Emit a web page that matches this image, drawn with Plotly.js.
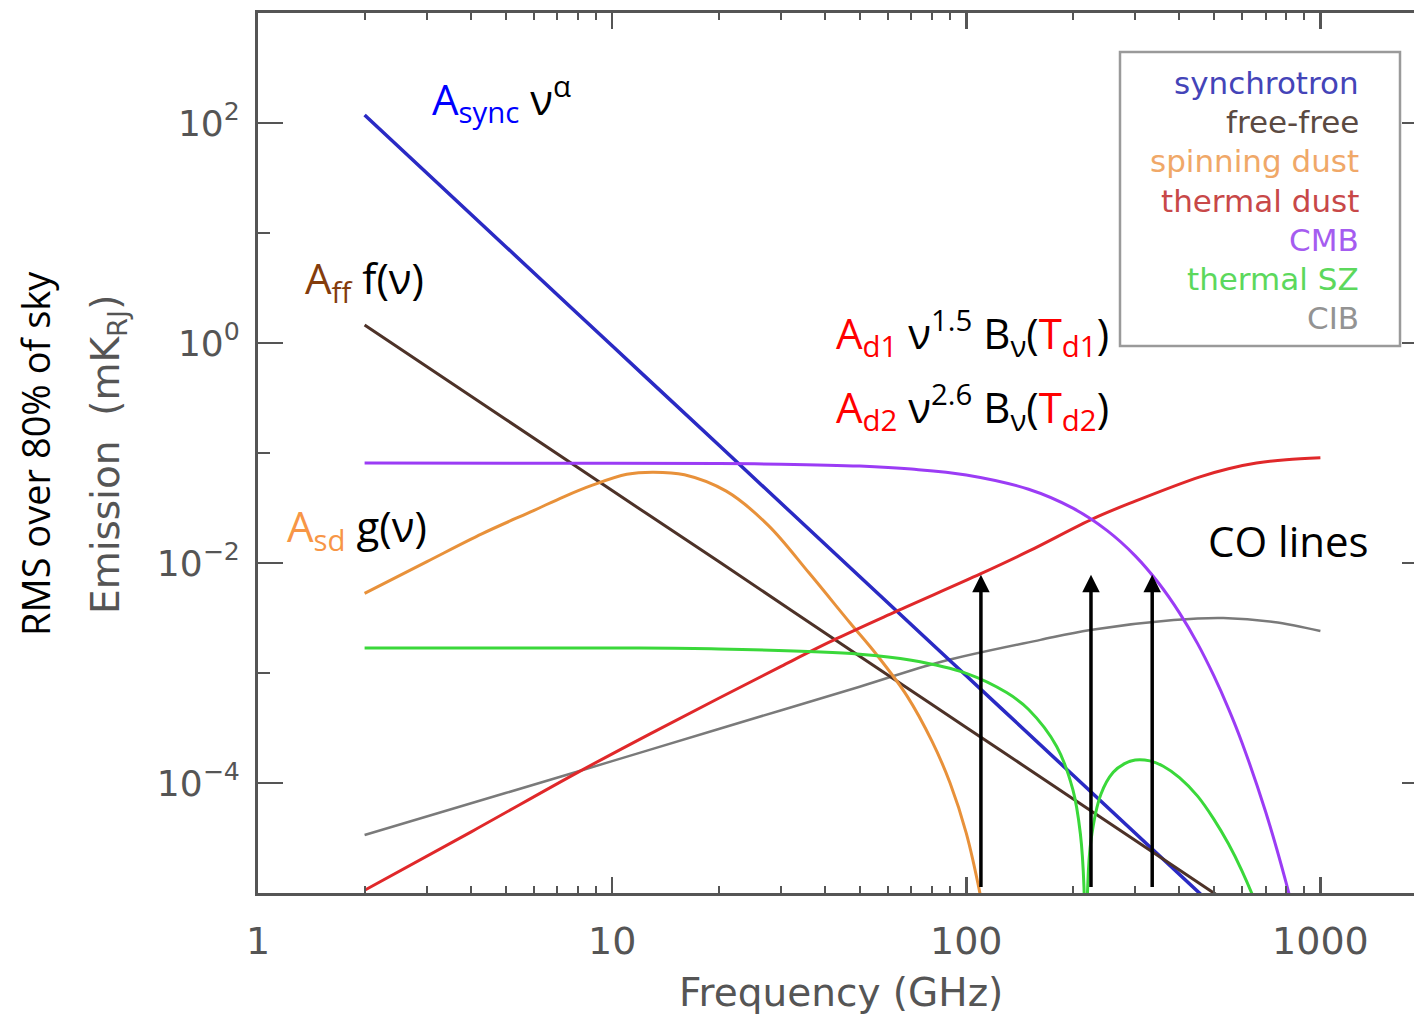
<!DOCTYPE html>
<html>
<head>
<meta charset="utf-8">
<script src="https://cdn.plot.ly/plotly-3.0.1.min.js"></script>
<style>
  html, body { margin: 0; padding: 0; background: #fff; overflow: hidden; }
  #chart { width: 1440px; height: 1017px; }
</style>
</head>
<body>
<div id="chart"></div>
<script>
// ---- Data (frequency in GHz, emission in mK_RJ) ----
const syncFreq = [2, 5, 10, 20, 50, 100, 200, 500];
const syncVals = [118, 7.55, 0.944, 0.118, 7.55e-3, 9.44e-4, 1.18e-4, 7.55e-6];

const ffFreq = [2, 5, 10, 20, 50, 100, 200, 500, 600];
const ffVals = [1.46, 0.203, 0.0455, 0.0103, 1.42e-3, 3.2e-4, 7.2e-5, 1.0e-5, 6.8e-6];

const sdFreq = [2, 3, 4.3, 6, 7.3, 8.8, 11, 13, 16, 21, 27.6, 36, 47, 56, 68, 80, 90, 100, 110, 115];
const sdVals = [5.3e-3, 0.0103, 0.0185, 0.030, 0.040, 0.051, 0.064, 0.067, 0.0635, 0.045, 0.022, 8.1e-3, 2.85e-3, 1.45e-3, 6.2e-4, 2.4e-4, 1.0e-4, 3.5e-5, 9e-6, 4e-6];

const tdFreq = [2, 4, 8, 12.8, 20, 30, 43, 63, 110, 150, 230, 300, 457, 550, 660, 800, 1000];
const tdVals = [1.06e-5, 3.6e-5, 1.25e-4, 2.8e-4, 5.9e-4, 1.15e-3, 2.05e-3, 3.6e-3, 8.0e-3, 0.0128, 0.0256, 0.0365, 0.0607, 0.072, 0.081, 0.087, 0.0905];

const cmbFreq = [2, 10, 20, 30, 50, 70, 100, 150, 200, 250, 300, 350, 400, 450, 500, 550, 600, 700, 800, 900];
const cmbVals = [0.081, 0.0808, 0.0802, 0.0792, 0.076, 0.0714, 0.0632, 0.0468, 0.0315, 0.0197, 0.01162, 0.00651, 0.00352, 1.85e-3, 9.45e-4, 4.75e-4, 2.35e-4, 5.5e-5, 1.24e-5, 2.7e-6];

const szFreq = [2, 10, 20, 50, 70, 100, 130, 150, 180, 200, 210, 215, 217.5, 220, 225, 240, 260, 280, 300, 330, 360, 400, 450, 500, 550, 600, 650, 700];
const szVals = [1.69e-3, 1.688e-3, 1.656e-3, 1.484e-3, 1.306e-3, 9.94e-4, 6.64e-4, 4.66e-4, 2.15e-4, 8.7e-5, 3.46e-5, 1.12e-5, 1e-7, 1.03e-5, 3.02e-5, 7.9e-5, 1.25e-4, 1.5e-4, 1.62e-4, 1.59e-4, 1.42e-4, 1.12e-4, 7.6e-5, 4.7e-5, 2.8e-5, 1.6e-5, 8.8e-6, 4.7e-6];

const cibFreq = [2, 5, 10, 20, 50, 84.5, 162, 224, 385, 532, 737, 1000];
const cibVals = [3.37e-5, 8.1e-5, 1.58e-4, 3.1e-4, 7.5e-4, 1.26e-3, 2.0e-3, 2.46e-3, 3.03e-3, 3.16e-3, 2.91e-3, 2.41e-3];

const legendNames = ["synchrotron", "free-free", "spinning dust", "thermal dust", "CMB", "thermal SZ", "CIB"];
const legendColors = ["#4444b8", "#5b4a42", "#f0a868", "#c84848", "#a55cf0", "#5cd85c", "#939393"];
const lineColors = ["#2a2ac4", "#4d3228", "#e8913a", "#e0282a", "#9b3cf5", "#3ad83a", "#7a7a7a"];
const lineWidths = [3.5, 3, 3, 3, 3, 3, 2.5];

// CO line arrows (GHz), arrow tip and base values (mK_RJ)
const coLines = [110, 225, 335];
const arrowTip = 7.8e-3;
const arrowBase = 1.1e-5;

const xTickVals = [1, 10, 100, 1000];
const xTickText = ["1", "10", "100", "1000"];
const yTickVals = [1e-4, 1e-2, 1, 100];
const yTickText = ["10<sup>\u22124</sup>", "10<sup>\u22122</sup>", "10<sup>0</sup>", "10<sup>2</sup>"];
const yMinorVals = [1e-3, 0.1, 10];

// ---- Build ----
const series = [
  [syncFreq, syncVals], [ffFreq, ffVals], [sdFreq, sdVals], [tdFreq, tdVals],
  [cmbFreq, cmbVals], [szFreq, szVals], [cibFreq, cibVals]
];
const traces = series.map((s, i) => ({
  x: s[0], y: s[1], type: "scatter", mode: "lines", name: legendNames[i],
  line: { color: lineColors[i], width: lineWidths[i], shape: "spline", smoothing: 1.0 },
  showlegend: false, hoverinfo: "skip"
}));
// draw CIB first so coloured curves sit on top
traces.unshift(traces.pop());

const xMinor = [];
for (let d = 1; d <= 1000; d *= 10) for (let k = 2; k <= 9; k++) xMinor.push(d * k);

// plot-area geometry for paper coordinates
const L = 258, T = 13, W = 1169, H = 880;
const px = v => (v - L) / W;
const py = v => (T + H - v) / H;

const annotations = [];
// legend box texts
legendNames.forEach((n, i) => {
  annotations.push({
    xref: "paper", yref: "paper", x: px(1361), y: py(83 + i * 39.2),
    xanchor: "right", yanchor: "middle", showarrow: false, text: n,
    font: { family: "DejaVu Sans", size: 31, color: legendColors[i] }
  });
});
const OS = "Open Sans";
const big = 42;
annotations.push(
  { xref: "paper", yref: "paper", x: px(430), y: py(99), xanchor: "left", yanchor: "middle", showarrow: false,
    text: '<span style="color:#0000ff">A<sub>sync</sub></span> \u03bd<sup>\u03b1</sup>',
    font: { family: OS, size: big, color: "#000" } },
  { xref: "paper", yref: "paper", x: px(303), y: py(280), xanchor: "left", yanchor: "middle", showarrow: false,
    text: '<span style="color:#843c0c">A<sub>ff</sub></span> f(\u03bd)',
    font: { family: OS, size: big, color: "#000" } },
  { xref: "paper", yref: "paper", x: px(285), y: py(528), xanchor: "left", yanchor: "middle", showarrow: false,
    text: '<span style="color:#f79646">A<sub>sd</sub></span> g(\u03bd)',
    font: { family: OS, size: big, color: "#000" } },
  { xref: "paper", yref: "paper", x: px(834), y: py(333), xanchor: "left", yanchor: "middle", showarrow: false,
    text: '<span style="color:#ff0000">A<sub>d1</sub></span> \u03bd<sup>1.5</sup> B<sub>\u03bd</sub>(<span style="color:#ff0000">T<sub>d1</sub></span>)',
    font: { family: OS, size: big, color: "#000" } },
  { xref: "paper", yref: "paper", x: px(834), y: py(407), xanchor: "left", yanchor: "middle", showarrow: false,
    text: '<span style="color:#ff0000">A<sub>d2</sub></span> \u03bd<sup>2.6</sup> B<sub>\u03bd</sub>(<span style="color:#ff0000">T<sub>d2</sub></span>)',
    font: { family: OS, size: big, color: "#000" } },
  { xref: "paper", yref: "paper", x: px(1206), y: py(540), xanchor: "left", yanchor: "middle", showarrow: false,
    text: "CO lines", font: { family: OS, size: big, color: "#000" } },
  // axis titles
  { xref: "paper", yref: "paper", x: px(841), y: py(993), xanchor: "center", yanchor: "middle", showarrow: false,
    text: "Frequency (GHz)", font: { family: "DejaVu Sans", size: 39, color: "#555" } },
  { xref: "paper", yref: "paper", x: px(108), y: py(455), xanchor: "center", yanchor: "middle", showarrow: false,
    textangle: -90, text: "Emission  (mK<sub>RJ</sub>)", font: { family: "DejaVu Sans", size: 39, color: "#555" } },
  { xref: "paper", yref: "paper", x: px(35), y: py(454), xanchor: "center", yanchor: "middle", showarrow: false,
    textangle: -90, text: "RMS over 80% of sky", font: { family: OS, size: 38, color: "#000" } }
);
// CO line arrows
coLines.forEach(f => {
  annotations.push({
    xref: "x", yref: "y", axref: "x", ayref: "y",
    x: Math.log10(f), y: Math.log10(arrowTip), ax: Math.log10(f), ay: Math.log10(arrowBase),
    text: "", showarrow: true, arrowhead: 2, arrowsize: 1, arrowwidth: 3.5, arrowcolor: "#000",
    standoff: 0, startstandoff: 0
  });
});

const axisCommon = {
  type: "log", showgrid: false, zeroline: false,
  showline: true, linecolor: "#555", linewidth: 3, mirror: "allticks",
  ticks: "inside", tickcolor: "#555", tickwidth: 2.5,
  tickmode: "array"
};

const layout = {
  width: 1440, height: 1017,
  margin: { l: L, r: 1440 - L - W, t: T, b: 1017 - T - H, pad: 0 },
  paper_bgcolor: "#fff", plot_bgcolor: "#fff",
  showlegend: false,
  xaxis: Object.assign({}, axisCommon, {
    range: [0, Math.log10(2000)],
    tickvals: xTickVals, ticktext: xTickText, ticklen: 16,
    ticklabelstandoff: 12,
    tickfont: { family: "DejaVu Sans", size: 38, color: "#555" },
    minor: { ticks: "inside", tickmode: "array", tickvals: xMinor, ticklen: 7, tickwidth: 2, tickcolor: "#555", showgrid: false }
  }),
  yaxis: Object.assign({}, axisCommon, {
    range: [-5, 3],
    tickvals: yTickVals, ticktext: yTickText, ticklen: 25,
    ticklabelstandoff: 8,
    tickfont: { family: "DejaVu Sans", size: 36, color: "#555" },
    minor: { ticks: "inside", tickmode: "array", tickvals: yMinorVals, ticklen: 12, tickwidth: 2.5, tickcolor: "#555", showgrid: false }
  }),
  shapes: [{
    type: "rect", xref: "paper", yref: "paper",
    x0: px(1120), x1: px(1400), y0: py(346), y1: py(52),
    line: { color: "#9a9a9a", width: 2.5 }, fillcolor: "#fff", layer: "above"
  }],
  annotations: annotations
};

Plotly.newPlot("chart", traces, layout, { staticPlot: true, displayModeBar: false });
</script>
</body>
</html>
